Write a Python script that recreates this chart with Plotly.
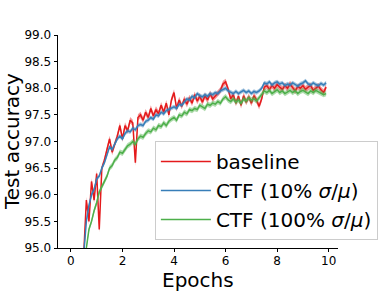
import plotly.graph_objects as go

epochs = [0.4, 0.5, 0.6, 0.7, 0.8, 0.9, 1.0, 1.1, 1.2, 1.3, 1.4, 1.5, 1.6, 1.7, 1.8, 1.9,
          2.0, 2.1, 2.2, 2.3, 2.4, 2.5, 2.6, 2.7, 2.8, 2.9, 3.0, 3.1, 3.2, 3.3, 3.4, 3.5,
          3.6, 3.7, 3.8, 3.9, 4.0, 4.1, 4.2, 4.3, 4.4, 4.5, 4.6, 4.7, 4.8, 4.9, 5.0, 5.1,
          5.2, 5.3, 5.4, 5.5, 5.6, 5.7, 5.8, 5.9, 6.0, 6.1, 6.2, 6.3, 6.4, 6.5, 6.6, 6.7,
          6.8, 6.9, 7.0, 7.1, 7.2, 7.3, 7.4, 7.5, 7.6, 7.7, 7.8, 7.9, 8.0, 8.1, 8.2, 8.3,
          8.4, 8.5, 8.6, 8.7, 8.8, 8.9, 9.0, 9.1, 9.2, 9.3, 9.4, 9.5, 9.6, 9.7, 9.8, 9.9]

baseline = [94.2, 94.9, 95.9, 95.5, 96.25, 95.9, 96.4, 95.35, 96.5, 96.65, 96.85, 97.05, 96.8, 96.95, 97.1, 97.3,
            97.05, 97.3, 97.2, 97.4, 97.35, 96.6, 97.45, 97.5, 97.4, 97.55, 97.45, 97.62, 97.48, 97.6, 97.52, 97.68,
            97.55, 97.72, 97.5, 97.78, 97.92, 97.62, 97.78, 97.66, 97.8, 97.7, 97.82, 97.72, 97.88, 97.76, 97.85, 97.74,
            97.86, 97.78, 97.9, 97.8, 97.86, 97.92, 97.96, 98.08, 98.12, 97.98, 97.8, 97.88, 97.72, 97.85, 97.68, 97.86,
            97.74, 97.84, 97.72, 97.86, 97.78, 97.66, 97.8, 98.02, 98.05, 97.98, 98.05, 98.0, 98.07, 98.02, 97.98, 98.05,
            98.0, 98.08, 98.02, 97.95, 98.03, 98.0, 98.05, 97.98, 98.02, 98.05, 97.96, 98.0, 98.04, 97.97, 97.92, 98.02]

ctf10 = [94.3, 95.0, 95.5, 95.8, 96.0, 96.1, 96.3, 96.35, 96.5, 96.6, 96.75, 96.9, 96.85, 96.95, 97.05, 97.1,
         97.05, 97.15, 97.2, 97.18, 97.25, 97.22, 97.3, 97.32, 97.3, 97.38, 97.4, 97.45, 97.42, 97.5, 97.48, 97.55,
         97.52, 97.58, 97.6, 97.62, 97.65, 97.62, 97.7, 97.68, 97.75, 97.8, 97.78, 97.85, 97.82, 97.9, 97.86, 97.84,
         97.88, 97.85, 97.9, 97.88, 97.92, 97.9, 97.95, 97.98, 98.0, 97.95, 97.92, 97.9, 97.94, 97.9, 97.93, 97.96,
         97.92, 97.95, 97.9, 97.94, 97.92, 97.95, 98.0, 98.1, 98.08, 98.12, 98.06, 98.1, 98.12, 98.08, 98.1, 98.05,
         98.08, 98.06, 98.1, 98.07, 98.04, 98.08, 98.1, 98.14, 98.08, 98.06, 98.1, 98.07, 98.05, 98.09, 98.06, 98.1]

ctf100 = [93.8, 94.5, 95.0, 95.35, 95.5, 95.7, 95.85, 96.05, 96.15, 96.25, 96.35, 96.5, 96.55, 96.65, 96.7, 96.8,
          96.78, 96.85, 96.92, 96.95, 97.0, 96.95, 97.05, 97.1, 97.08, 97.15, 97.2, 97.18, 97.25, 97.22, 97.3, 97.28,
          97.35, 97.3, 97.38, 97.42, 97.45, 97.4, 97.5, 97.48, 97.55, 97.52, 97.6, 97.58, 97.62, 97.6, 97.68, 97.65,
          97.62, 97.7, 97.68, 97.72, 97.7, 97.75, 97.72, 97.8, 97.84, 97.78, 97.75, 97.8, 97.74, 97.78, 97.72, 97.8,
          97.76, 97.82, 97.78, 97.8, 97.76, 97.82, 97.88, 97.95, 97.92, 97.96, 97.9, 97.94, 97.97, 97.92, 97.95, 97.9,
          97.93, 97.96, 97.92, 97.95, 97.9, 97.94, 97.96, 97.93, 97.9, 97.95, 97.92, 97.96, 97.93, 97.9, 97.88, 97.9]

spread = {"baseline": 0.06, "ctf10": 0.04, "ctf100": 0.05}

series = [
    ("baseline", baseline, spread["baseline"], "#e41a1c", "rgba(228,26,28,0.45)", 1.5),
    ("CTF (10% <i>σ</i>/<i>μ</i>)", ctf10, spread["ctf10"], "#377eb8", "rgba(55,126,184,0.45)", 1.5),
    ("CTF (100% <i>σ</i>/<i>μ</i>)", ctf100, spread["ctf100"], "#4daf4a", "rgba(77,175,74,0.45)", 1.5),
]

fig = go.Figure()
for name, vals, sd, color, fill, lw in series:
    lo = [v - sd for v in vals]
    hi = [v + sd for v in vals]
    fig.add_trace(go.Scatter(x=epochs, y=lo, mode="lines", line=dict(width=0, color=color),
                             showlegend=False, hoverinfo="skip"))
    fig.add_trace(go.Scatter(x=epochs, y=hi, mode="lines", line=dict(width=0, color=color),
                             fill="tonexty", fillcolor=fill, showlegend=False, hoverinfo="skip"))
    fig.add_trace(go.Scatter(x=epochs, y=vals, mode="lines", name=name,
                             line=dict(width=lw, color=color)))

axis_common = dict(showline=True, linecolor="black", linewidth=0.8, ticks="outside",
                   ticklen=3.5, tickwidth=0.8, tickcolor="black", showgrid=False, zeroline=False,
                   automargin=False,
                   tickfont=dict(family="DejaVu Sans", size=12, color="black"))

fig.update_layout(
    width=390, height=292,
    margin=dict(l=58, r=49, t=35, b=44),
    plot_bgcolor="white", paper_bgcolor="white",
    font=dict(family="DejaVu Sans", color="black"),
    xaxis=dict(range=[-0.5, 10.36], tickmode="array", tickvals=[0, 2, 4, 6, 8, 10],
               ticklabelstandoff=-2, **axis_common),
    yaxis=dict(range=[95, 99], tickmode="array",
               tickvals=[95.0, 95.5, 96.0, 96.5, 97.0, 97.5, 98.0, 98.5, 99.0],
               ticktext=["95.0", "95.5", "96.0", "96.5", "97.0", "97.5", "98.0", "98.5", "99.0"],
               **axis_common),
    legend=dict(x=0.346, y=0.502, xanchor="left", yanchor="top", traceorder="normal",
                bgcolor="rgba(255,255,255,0.8)", bordercolor="#cccccc", borderwidth=1,
                font=dict(family="DejaVu Sans", size=20, color="black"),
                itemwidth=50, tracegroupgap=0),
    showlegend=True,
    annotations=[
        dict(text="Epochs", xref="paper", yref="paper", x=0.5, y=-0.150,
             xanchor="center", yanchor="middle", showarrow=False,
             font=dict(family="DejaVu Sans", size=20, color="black")),
        dict(text="Test accuracy", xref="paper", yref="paper", x=-0.166, y=0.5,
             xanchor="center", yanchor="middle", textangle=-90, showarrow=False,
             font=dict(family="DejaVu Sans", size=20, color="black")),
    ],
)

fig.write_html("out.html", config={"displayModeBar": False},
               post_script="document.body.style.margin='0';document.body.style.overflow='hidden';")
